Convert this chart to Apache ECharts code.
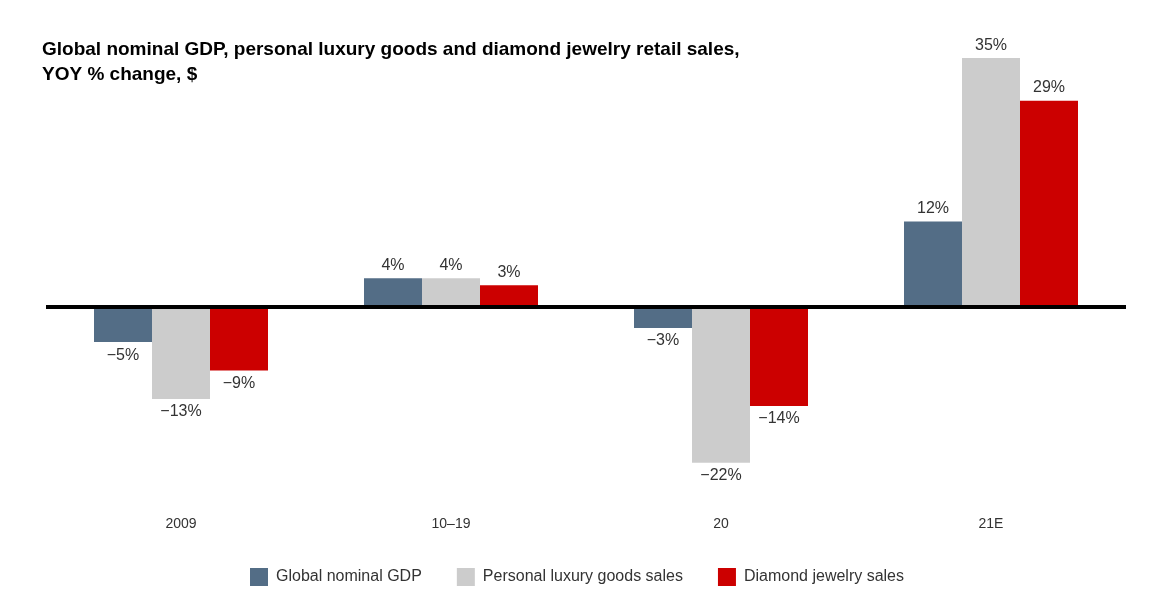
<!DOCTYPE html>
<html>
<head>
<meta charset="utf-8">
<script src="https://cdn.jsdelivr.net/npm/echarts@6/dist/echarts.min.js"></script>
<style>
  html, body { margin: 0; padding: 0; background: #fff; }
  #chart { width: 1154px; height: 609px; }
</style>
</head>
<body>
<div id="chart"></div>
<script>
const categories = ['2009', '10\u201319', '20', '21E'];
const gdp = [-5, 4, -3, 12];
const luxury = [-13, 4, -22, 35];
const diamond = [-9, 3, -14, 29];

const seriesNames = ['Global nominal GDP', 'Personal luxury goods sales', 'Diamond jewelry sales'];
const seriesColors = ['#536d86', '#cccccc', '#cc0000'];

const fmt = v => (v < 0 ? '\u2212' + Math.abs(v) : v) + '%';

// 负值标签放在柱子下方
const toItems = arr => arr.map(v => ({
    value: v,
    label: { position: v < 0 ? 'bottom' : 'top' }
}));

const makeSeries = (name, data, color, withZero) => {
    const s = {
        name: name,
        type: 'bar',
        data: toItems(data),
        barWidth: 58,
        barGap: '0%',
        itemStyle: { color: color },
        label: {
            show: true,
            distance: 5,
            fontSize: 16,
            color: '#333',
            fontFamily: 'Liberation Sans, Arial, sans-serif',
            formatter: p => fmt(p.value)
        }
    };
    if (withZero) {
        s.markLine = {
            silent: true,
            symbol: 'none',
            label: { show: false },
            lineStyle: { color: '#000', width: 4, type: 'solid' },
            data: [{ yAxis: 0 }]
        };
    }
    return s;
};

const myChart = echarts.init(document.getElementById('chart'));
myChart.setOption({
    backgroundColor: '#fff',
    animation: false,
    title: {
        text: 'Global nominal GDP, personal luxury goods and diamond jewelry retail sales,\nYOY % change, $',
        left: 37,
        top: 32,
        textStyle: {
            fontSize: 19,
            fontWeight: 'bold',
            color: '#000',
            lineHeight: 25,
            fontFamily: 'Liberation Sans, Arial, sans-serif'
        }
    },
    legend: {
        bottom: 18,
        left: 'center',
        itemWidth: 18,
        itemHeight: 18,
        itemGap: 35,
        icon: 'rect',
        textStyle: {
            fontSize: 16,
            color: '#333',
            padding: [0, 0, 0, 3],
            fontFamily: 'Liberation Sans, Arial, sans-serif'
        },
        data: seriesNames
    },
    grid: { left: 46, right: 28, top: 51, height: 426 },
    xAxis: {
        type: 'category',
        data: categories,
        position: 'bottom',
        axisLine: { show: false, onZero: false },
        axisTick: { show: false },
        axisLabel: {
            margin: 40,
            fontSize: 14,
            color: '#333',
            fontFamily: 'Liberation Sans, Arial, sans-serif'
        }
    },
    yAxis: {
        type: 'value',
        min: -24,
        max: 36,
        show: false,
        splitLine: { show: false }
    },
    series: [
        makeSeries(seriesNames[0], gdp, seriesColors[0], true),
        makeSeries(seriesNames[1], luxury, seriesColors[1], false),
        makeSeries(seriesNames[2], diamond, seriesColors[2], false)
    ]
});
</script>
</body>
</html>
